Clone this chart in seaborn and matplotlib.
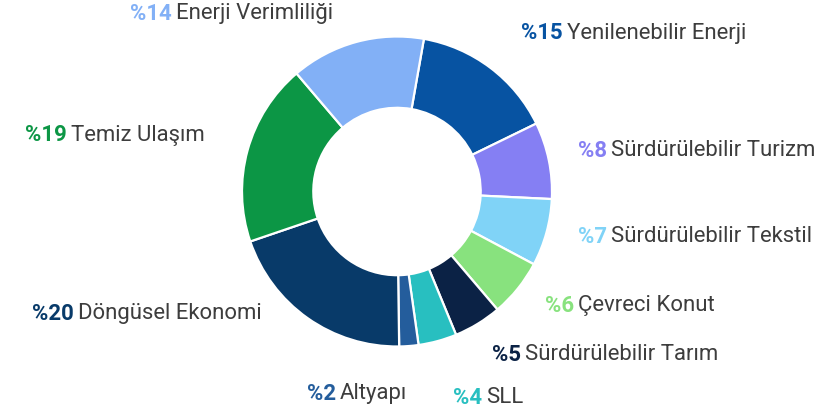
import matplotlib
matplotlib.use("Agg")
import matplotlib.pyplot as plt
import seaborn as sns

# Share of green financing by category (%), clockwise from the top
categories = [
    "Yenilenebilir Enerji",
    "Sürdürülebilir Turizm",
    "Sürdürülebilir Tekstil",
    "Çevreci Konut",
    "Sürdürülebilir Tarım",
    "SLL",
    "Altyapı",
    "Döngüsel Ekonomi",
    "Temiz Ulaşım",
    "Enerji Verimliliği",
]
shares = [15, 8, 7, 6, 5, 4, 2, 20, 19, 14]
slice_colors = [
    "#0753A2", "#857FF3", "#80D3F7", "#88E27E", "#0B2245",
    "#28BFC0", "#245D9C", "#083A69", "#0C9645", "#82B0F6",
]

sns.set_theme(style="white")
plt.rcParams["font.family"] = ["Roboto", "DejaVu Sans"]

W, H, DPI = 833, 414, 100
fig = plt.figure(figsize=(W / DPI, H / DPI), dpi=DPI)
ax = fig.add_axes([0, 0, 1, 1])

palette = sns.color_palette(slice_colors)
ax.pie(
    shares,
    colors=palette,
    startangle=80,
    counterclock=False,
    radius=1.0,
    wedgeprops=dict(width=0.46, edgecolor="white", linewidth=1.6),
)

# Axes spans the figure; one data unit equals the outer radius in pixels
R_PX = 155.0
CX, CY = 397.0, 192.5
ax.set_xlim(-CX / R_PX, (W - CX) / R_PX)
ax.set_ylim(-(H - CY) / R_PX, CY / R_PX)
ax.axis("off")

# Label anchors in pixels (left edge, vertical centre)
label_pos = {
    "Enerji Verimliliği": (130, 14),
    "Yenilenebilir Enerji": (521, 33),
    "Temiz Ulaşım": (25, 135),
    "Sürdürülebilir Turizm": (578, 151),
    "Sürdürülebilir Tekstil": (578, 237),
    "Çevreci Konut": (545, 306),
    "Döngüsel Ekonomi": (32, 314),
    "Sürdürülebilir Tarım": (492, 355),
    "Altyapı": (307, 394),
    "SLL": (453, 398),
}

FS = 15.9
fig.canvas.draw()
renderer = fig.canvas.get_renderer()
for name, val, col in zip(categories, shares, slice_colors):
    px, py = label_pos[name]
    t = fig.text(px / W, 1 - py / H, f"%{val}", color=col, fontsize=FS,
                 fontweight="bold", ha="left", va="center")
    bb = t.get_window_extent(renderer=renderer)
    fig.text((bb.x1 + 4) / W, 1 - py / H, name, color="#3d3d3d",
             fontsize=FS, ha="left", va="center")

fig.savefig("out.png", dpi=DPI, facecolor="white")
